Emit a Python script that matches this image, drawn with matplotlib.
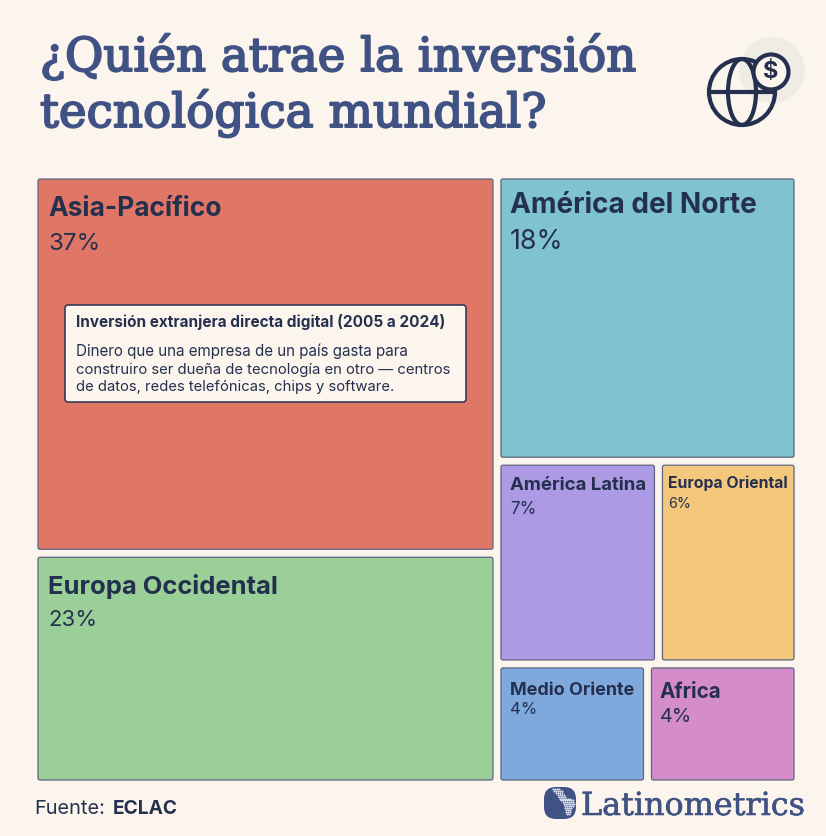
import matplotlib.pyplot as plt
import matplotlib.patheffects as pe
from matplotlib.patches import FancyBboxPatch, Circle, Ellipse

regions = ["Asia-Pacífico", "Europa Occidental", "América del Norte", "América Latina",
           "Europa Oriental", "Medio Oriente", "Africa"]
shares = [37, 23, 18, 7, 6, 4, 4]
# unrounded sizes behind the boxes
areas = [37.4, 22.5, 18.1, 7.0, 6.0, 3.74, 3.74]
colors = ["#e07766", "#9acf98", "#7fc2d1", "#ac9ae4", "#f4c87c", "#7fa8dc", "#d58ccb"]

# text placement per box: left pad, baselines below box top, target widths in px
pads = [10, 10, 9, 9, 6, 9, 8]
name_base = [37, 37, 34, 25, 23, 27, 30]
pct_base = [71, 69, 70, 49, 43, 46, 54]
name_w = [174, 230, 247, 137, 120, 124, 62]
pct_w = [52, 49, 53, 26, 23, 27, 32]

title_lines = ["¿Quién atrae la inversión", "tecnológica mundial?"]
note_title = "Inversión extranjera directa digital (2005 a 2024)"
note_lines = ["Dinero que una empresa de un país gasta para",
              "construiro ser dueña de tecnología en otro — centros",
              "de datos, redes telefónicas, chips y software."]

BG = "#fbf5ee"
INK = "#25304f"
BLUE = "#3f5283"
SANS = "Inter"
SERIF = "DejaVu Serif"
GAP = 8

fig = plt.figure(figsize=(8.26, 8.36), dpi=100, facecolor=BG)
ax = fig.add_axes([0, 0, 1, 1])
ax.set_xlim(0, 826)
ax.set_ylim(836, 0)
ax.axis("off")


def fit_text(x, y, s, width, **kw):
    # scale the font so the string spans width pixels
    t = ax.text(x, y, s, fontsize=10, va="baseline", ha="left", **kw)
    w = t.get_window_extent(fig.canvas.get_renderer()).width
    t.set_fontsize(10 * width / w)
    return t


def split_h(box, a, b):
    x, y, w, h = box
    wa = (w - GAP) * a / (a + b)
    return (x, y, wa, h), (x + wa + GAP, y, w - GAP - wa, h)


def split_v(box, a, b):
    x, y, w, h = box
    ha = (h - GAP) * a / (a + b)
    return (x, y, w, ha), (x, y + ha + GAP, w, h - GAP - ha)


# slice and dice layout
s = areas
left, right = split_h((38, 179, 756, 601), s[0] + s[1], sum(s[2:]))
b_asia, b_eur = split_v(left, s[0], s[1])
b_nor, rest = split_v(right, s[2], sum(s[3:]))
mid, low = split_v(rest, s[3] + s[4], s[5] + s[6])
b_lat, b_ori = split_h(mid, s[3], s[4])
b_med, b_afr = split_h(low, s[5], s[6])
boxes = [b_asia, b_eur, b_nor, b_lat, b_ori, b_med, b_afr]

for i, (x, y, w, h) in enumerate(boxes):
    ax.add_patch(FancyBboxPatch((x, y), w, h, boxstyle="round,pad=0,rounding_size=2",
                                fc=colors[i], ec="#5f6580", lw=0.9))
    fit_text(x + pads[i], y + name_base[i], regions[i], name_w[i], fontweight="bold",
             family=SANS, color=INK)
    fit_text(x + pads[i], y + pct_base[i], f"{shares[i]}%", pct_w[i], family=SANS, color=INK)

# definition box
ax.add_patch(FancyBboxPatch((65, 305), 401, 97, boxstyle="round,pad=0,rounding_size=3",
                            fc=BG, ec=INK, lw=1.1))
fit_text(76, 327, note_title, 367, fontweight="bold", family=SANS, color=INK)
note_w = [336, 377, 320]
note_y = [356, 374, 391]
for k, line in enumerate(note_lines):
    fit_text(76, note_y[k], line, note_w[k], family=SANS, color=INK)

# title
title_w = [599, 510]
title_y = [71, 127]
for k, line in enumerate(title_lines):
    t = fit_text(40, title_y[k], line, title_w[k], family=SERIF, color=BLUE)
    t.set_path_effects([pe.withStroke(linewidth=1.4, foreground=BLUE)])

# globe icon
ax.add_patch(Circle((772, 70), 33, fc="#efebe5", ec="none"))
ax.add_patch(Circle((742, 92), 33, fc="none", ec=INK, lw=3))
ax.add_patch(Ellipse((742, 92), 28, 66, fc="none", ec=INK, lw=3))
ax.plot([710, 775], [92, 92], color=INK, lw=3, solid_capstyle="butt")
ax.add_patch(Circle((771, 72), 17.5, fc=BG, ec=INK, lw=3, zorder=4))
ax.text(770.5, 72, "$", fontsize=17, fontweight="bold", family=SANS, color=INK, ha="center",
        va="center", zorder=5)

# footer
fit_text(34, 814, "Fuente:", 71, family=SANS, color=INK)
fit_text(113, 814, "ECLAC", 65, fontweight="bold", family=SANS, color=INK)

# logo
ax.add_patch(FancyBboxPatch((544, 787), 32, 32, boxstyle="round,pad=0,rounding_size=12", fc=BLUE, ec="none"))
dot_x, dot_y = [], []
rows = [(553, 560), (554, 562), (556, 563), (558, 564), (559, 566), (560, 570), (561, 573), (563, 574),
        (564, 574), (565, 573), (565, 572), (566, 571), (566, 570), (567, 569)]
for j, (a, b) in enumerate(rows):
    for xx in range(a, b + 1, 2):
        dot_x.append(xx)
        dot_y.append(789 + j * 1.9)
ax.scatter(dot_x, dot_y, s=2.2, color="#dfe3ee", linewidths=0, zorder=4)
t = fit_text(581, 815, "Latinometrics", 225, family=SERIF, color=BLUE)
t.set_path_effects([pe.withStroke(linewidth=0.4, foreground=BLUE)])

fig.savefig("out.png", dpi=100, facecolor=BG)
